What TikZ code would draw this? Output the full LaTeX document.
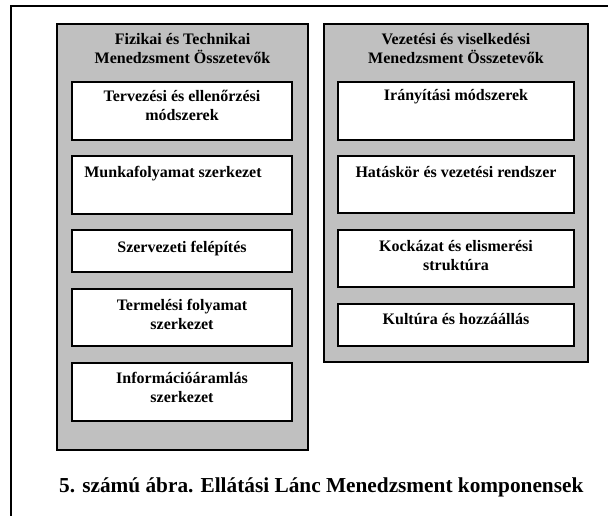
\documentclass[tikz,border=0pt]{standalone}
\usepackage{fontspec}
\setmainfont{Liberation Serif}
\begin{document}
\begin{tikzpicture}[x=1pt,y=-1pt,
  panel/.style={draw=black, fill=panelgray, line width=2.2pt},
  itembox/.style={draw=black, fill=white, line width=2.2pt},
  lbl/.style={font=\bfseries\fontsize{16}{19}\selectfont, align=center, anchor=base, inner sep=0pt},
  caption/.style={font=\bfseries\fontsize{21.3}{24}\selectfont, anchor=base west, inner sep=0pt}]
\definecolor{panelgray}{RGB}{192,192,192}
\useasboundingbox (0,0) rectangle (608,515);
\clip (0,0) rectangle (608,515);
\fill[white] (0,0) rectangle (608,515);

% outer frame, running past the right and bottom edges
\draw[line width=1.8pt] (11,530) -- (11,6) -- (620,6);

% left panel: physical and technical components
% (multi-line labels are placed by the baseline of their last line)
\draw[panel] (57,24) rectangle (308,450);
\node[lbl] (lh) at (182.5,63) {Fizikai és Technikai\\Menedzsment Összetevők};
\draw[itembox] (72,82)  rectangle (292,140);
\draw[itembox] (72,156) rectangle (292,214);
\draw[itembox] (72,230) rectangle (292,272);
\draw[itembox] (72,289) rectangle (292,346);
\draw[itembox] (72,363) rectangle (292,421);
\node[lbl] (l1) at (182,120) {Tervezési és ellenőrzési\\módszerek};
\node[lbl] (l2) at (173,177) {Munkafolyamat szerkezet};
\node[lbl] (l3) at (182,252) {Szervezeti felépítés};
\node[lbl] (l4) at (182,329.5) {Termelési folyamat\\szerkezet};
\node[lbl] (l5) at (182,402) {Információáramlás\\szerkezet};

% right panel: managerial and behavioural components
\draw[panel] (324,24) rectangle (588,362);
\node[lbl] (rh) at (456,63) {Vezetési és viselkedési\\Menedzsment Összetevők};
\draw[itembox] (338,82)  rectangle (574,140);
\draw[itembox] (338,156) rectangle (574,213);
\draw[itembox] (338,230) rectangle (574,287);
\draw[itembox] (338,304) rectangle (574,346);
\node[lbl] (r1) at (456,100) {Irányítási módszerek};
\node[lbl] (r2) at (456,177) {Hatáskör és vezetési rendszer};
\node[lbl] (r3) at (456,270) {Kockázat és elismerési\\struktúra};
\node[lbl] (r4) at (456,324) {Kultúra és hozzáállás};

% figure caption
\node[caption] (cap) at (59,492) {5. számú ábra. Ellátási Lánc Menedzsment komponensek};
\end{tikzpicture}
\end{document}
